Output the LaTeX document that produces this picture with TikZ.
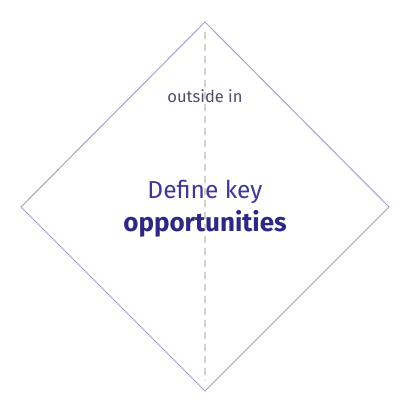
\documentclass[tikz,border=0pt]{standalone}
\usepackage{fontspec}
\setmainfont{Fira Sans}
\usepackage{tikz}

\definecolor{rimblue}{HTML}{A0A4C4}
\definecolor{axisgray}{HTML}{D2D2D2}
\definecolor{smallgray}{HTML}{4B4F68}
\definecolor{keypurple}{HTML}{3E3893}
\definecolor{deeppurple}{HTML}{2F2883}

\tikzset{
  rimline/.style={rimblue, line width=1pt, line join=miter},
  axisline/.style={axisgray, line width=1.2pt, dash pattern=on 7pt off 5pt},
  smalltext/.style={text=smallgray, font=\fontsize{16.5}{18}\selectfont},
  keytext/.style={text=keypurple, font=\fontsize{24.5}{27}\selectfont},
  boldtext/.style={text=deeppurple, font=\fontsize{26}{29}\selectfont\bfseries}
}

\begin{document}
\begin{tikzpicture}[x=1pt,y=1pt]
				\useasboundingbox (0,0) rectangle (413,413);
				% Ecken der Raute
				\coordinate (top) at (205,391);
				\coordinate (left) at (21,206);
				\coordinate (right) at (389,206);
				\coordinate (bottom) at (205,22);
				% Mittelachse
				\draw[axisline] ([yshift=-10pt]top) -- ([yshift=10pt]bottom);
				\draw[rimline] (top) -- (right) -- (bottom) -- (left) -- cycle;
				\node[smalltext] (outside) at (205,317) {outside in};
				\node[keytext] (define) at (205,221) {Define key};
				\node[boldtext] (opps) at (205,189) {opportunities};
			\end{tikzpicture}
\end{document}
